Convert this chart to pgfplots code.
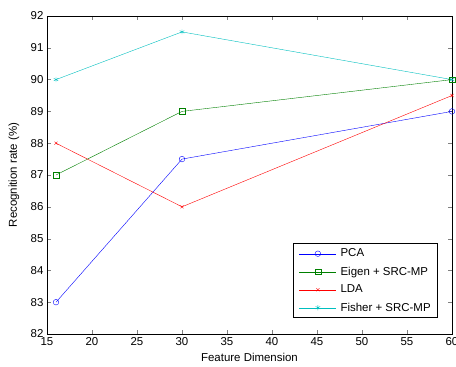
\documentclass[border=0pt]{standalone}
\usepackage{fontspec}
\setmainfont{Liberation Sans}
\usepackage{pgfplots}
\pgfplotsset{compat=1.18}
\definecolor{mblue}{rgb}{0,0,1}
\definecolor{mgreen}{rgb}{0,0.5,0}
\definecolor{mred}{rgb}{1,0,0}
\definecolor{mcyan}{rgb}{0,0.75,0.75}
\begin{document}
\begin{tikzpicture}
\begin{axis}[
  at={(0,0)}, anchor=south west,
  scale only axis, width=405bp, height=318bp,
  xmin=15, xmax=60, ymin=82, ymax=92,
  xtick={15,20,...,60}, ytick={82,83,...,92},
  tick align=inside, tick pos=both,
  major tick length=4bp,
  /pgf/number format/assume math mode=true,
  ticklabel style={font=\fontsize{11.5}{13}\selectfont},
  label style={font=\fontsize{11.5}{13}\selectfont},
  xlabel={Feature Dimension},
  ylabel={Recognition rate (\%)},
  xlabel style={at={(axis description cs:0.5,0)}, anchor=center, yshift=-23bp},
  ylabel style={at={(axis description cs:0,0.5)}, anchor=center, yshift=33bp},
  axis line style={black, line width=0.6pt},
  legend style={at={(axis description cs:0.9654,0.0503)}, anchor=south east,
    font=\fontsize{11.5}{13}\selectfont,
    draw=black, line width=0.6pt, inner xsep=6bp, inner ysep=1bp,
    nodes={inner sep=1bp, minimum height=18bp, anchor=west},
    /tikz/every odd column/.append style={column sep=3bp}},
  legend cell align=left,
  legend image code/.code={
    \draw[#1, mark repeat=2, mark phase=2] plot coordinates {(0bp,0bp) (18.5bp,0bp) (37bp,0bp)};
  },
]
\addplot[mblue, line width=0.4pt, mark=o, mark size=2.8bp] coordinates {(16,83) (30,87.5) (60,89)};
\addlegendentry{PCA}
\addplot[mgreen, line width=0.4pt, mark=square, mark size=2.8bp] coordinates {(16,87) (30,89) (60,90)};
\addlegendentry{Eigen + SRC-MP}
\addplot[mred, line width=0.4pt, mark=x, mark size=2.2bp] coordinates {(16,88) (30,86) (60,89.5)};
\addlegendentry{LDA}
\addplot[mcyan, line width=0.4pt, mark=asterisk, mark size=2.6bp] coordinates {(16,90) (30,91.5) (60,90)};
\addlegendentry{Fisher + SRC-MP}
\end{axis}
\pgfresetboundingbox
\useasboundingbox (-47bp,-33bp) rectangle (409bp,334bp);
\end{tikzpicture}
\end{document}
